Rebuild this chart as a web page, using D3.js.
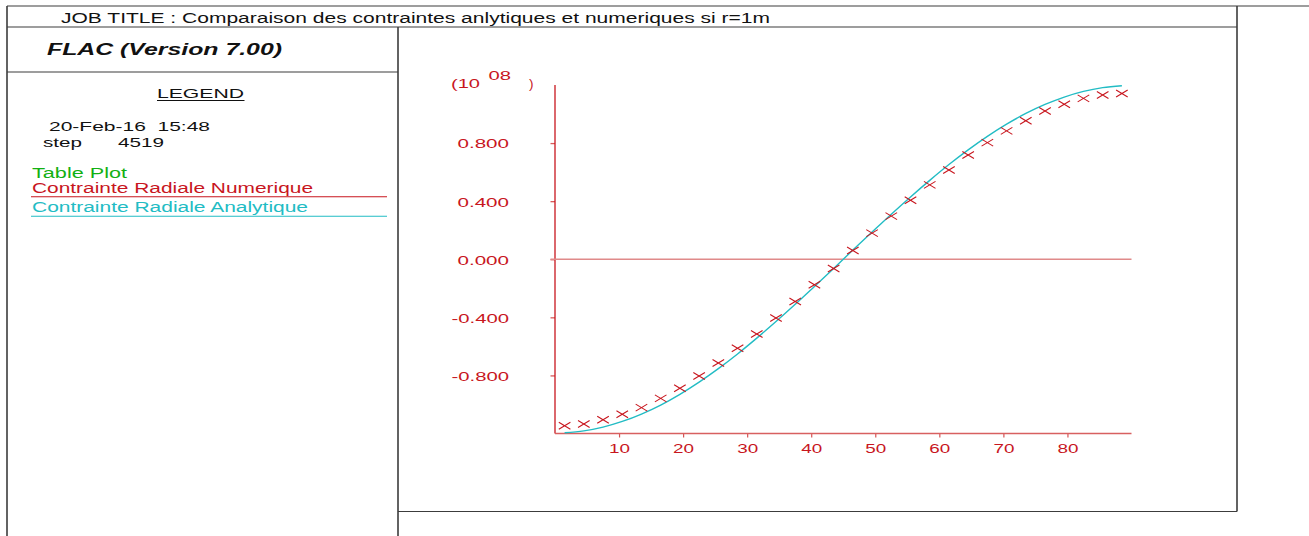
<!DOCTYPE html>
<html>
<head>
<meta charset="utf-8">
<script src="https://cdn.jsdelivr.net/npm/d3@7"></script>
<style>
  html, body { margin: 0; padding: 0; background: #fff; }
  svg { display: block; }
  text { font-family: "Liberation Sans", Arial, Helvetica, sans-serif; white-space: pre; }
</style>
</head>
<body>
<svg id="plot" width="1309" height="536"></svg>
<script>
// Angle along the boundary (degrees)
const angles = [1.5, 4.5, 7.5, 10.5, 13.5, 16.5, 19.5, 22.5, 25.5, 28.5,
                31.5, 34.5, 37.5, 40.5, 43.5, 46.5, 49.5, 52.5, 55.5, 58.5,
                61.5, 64.5, 67.5, 70.5, 73.5, 76.5, 79.5, 82.5, 85.5, 88.5];

// Radial stress, numerical (FLAC), units of 10^8
const numerique = [-1.146, -1.134, -1.105, -1.068, -1.022, -0.958, -0.889, -0.804, -0.715, -0.613,
                   -0.515, -0.405, -0.291, -0.176, -0.064, 0.060, 0.180, 0.297, 0.406, 0.512,
                   0.615, 0.718, 0.803, 0.884, 0.954, 1.021, 1.067, 1.108, 1.131, 1.142];

// Radial stress, analytical solution, units of 10^8
const analytique = [-1.195, -1.182, -1.156, -1.117, -1.066, -1.004, -0.930, -0.846, -0.753, -0.652,
                    -0.543, -0.429, -0.310, -0.187, -0.063, 0.063, 0.187, 0.310, 0.429, 0.543,
                    0.652, 0.753, 0.846, 0.930, 1.004, 1.066, 1.117, 1.156, 1.182, 1.195];

const yTicks = [-0.8, -0.4, 0.0, 0.4, 0.8];
const xTicks = [10, 20, 30, 40, 50, 60, 70, 80];

const RED = "#c8161e";
const CYAN = "#22bcc4";
const GREEN = "#12b012";
const INK = "#111";
const FRAME = "#3c3c3c";

const svg = d3.select("#plot");

// ---- page frame ----
const frame = svg.append("g").attr("fill", "none").attr("stroke", FRAME);
frame.append("line").attr("x1", 7).attr("y1", 6).attr("x2", 1309).attr("y2", 6).attr("stroke-width", 1.2);
frame.append("line").attr("x1", 7).attr("y1", 6).attr("x2", 7).attr("y2", 536).attr("stroke-width", 1.6);
frame.append("line").attr("x1", 1237).attr("y1", 6).attr("x2", 1237).attr("y2", 511.5).attr("stroke-width", 1.6);
frame.append("line").attr("x1", 7).attr("y1", 27).attr("x2", 1237).attr("y2", 27).attr("stroke-width", 1.2);
frame.append("line").attr("x1", 398).attr("y1", 27).attr("x2", 398).attr("y2", 536).attr("stroke-width", 1.6);
frame.append("line").attr("x1", 7).attr("y1", 72).attr("x2", 398).attr("y2", 72).attr("stroke-width", 1.2);
frame.append("line").attr("x1", 398).attr("y1", 511.5).attr("x2", 1237).attr("y2", 511.5).attr("stroke-width", 1.2);

// helper for stretched plotter-style text
function label(g, str, x, y, opts) {
  const t = g.append("text").attr("x", x).attr("y", y).text(str)
    .attr("font-size", opts.size || 13)
    .attr("fill", opts.fill || INK);
  if (opts.len) t.attr("textLength", opts.len).attr("lengthAdjust", "spacingAndGlyphs");
  if (opts.weight) t.attr("font-weight", opts.weight);
  if (opts.style) t.attr("font-style", opts.style);
  if (opts.anchor) t.attr("text-anchor", opts.anchor);
  return t;
}

const hdr = svg.append("g");
label(hdr, "JOB TITLE : Comparaison des contraintes anlytiques et numeriques si r=1m", 61, 23, {size: 14, len: 709});
label(hdr, "FLAC (Version 7.00)", 47, 54.5, {size: 16, len: 235, weight: "bold", style: "italic"});

// ---- legend panel ----
const leg = svg.append("g");
label(leg, "LEGEND", 157, 97.5, {size: 13.5, len: 87});
leg.append("line").attr("x1", 157).attr("x2", 244.5).attr("y1", 100.5).attr("y2", 100.5)
  .attr("stroke", INK).attr("stroke-width", 1);
label(leg, "20-Feb-16  15:48", 49, 131, {size: 13.5, len: 161});
label(leg, "step", 43, 146.5, {size: 13.5, len: 39});
label(leg, "4519", 118, 146.5, {size: 13.5, len: 46});
label(leg, "Table Plot", 32, 177.5, {size: 14, len: 95, fill: GREEN});
label(leg, "Contrainte Radiale Numerique", 32, 192.5, {size: 14, len: 281, fill: RED});
leg.append("line").attr("x1", 31).attr("x2", 387).attr("y1", 196.8).attr("y2", 196.8)
  .attr("stroke", RED).attr("stroke-width", 1.1);
label(leg, "Contrainte Radiale Analytique", 32, 212, {size: 14, len: 276, fill: CYAN});
leg.append("line").attr("x1", 31).attr("x2", 387).attr("y1", 216.2).attr("y2", 216.2)
  .attr("stroke", CYAN).attr("stroke-width", 1.1);

// ---- chart ----
const x = d3.scaleLinear().domain([0, 90]).range([555, 1131.5]);
const y = d3.scaleLinear().domain([-1.2, 1.2]).range([433.5, 85]);

const fmtY = v => d3.format(".3f")(v).replace("\u2212", "-");

// y axis
const yAxis = svg.append("g").attr("transform", `translate(${x(0)},0)`)
  .call(d3.axisLeft(y).tickValues(yTicks).tickSize(4.5).tickPadding(0).tickFormat(fmtY));
yAxis.select(".domain").remove();
yAxis.selectAll(".tick line").attr("stroke", "#d85a5a").attr("stroke-width", 1.3);
yAxis.selectAll(".tick text")
  .attr("x", -46).attr("dy", "0.36em").attr("fill", RED)
  .attr("font-size", 13.5).attr("font-family", null)
  .each(function (d) {
    d3.select(this).attr("textLength", d < 0 ? 57.5 : 51.5).attr("lengthAdjust", "spacingAndGlyphs");
  });
svg.append("line").attr("x1", x(0)).attr("x2", x(0)).attr("y1", 85).attr("y2", 433.5)
  .attr("stroke", RED).attr("stroke-width", 1.3);

// x axis
const xAxis = svg.append("g").attr("transform", `translate(0,${y(-1.2)})`)
  .call(d3.axisBottom(x).tickValues(xTicks).tickSize(4).tickPadding(6).tickFormat(d3.format("d")));
xAxis.select(".domain").remove();
xAxis.selectAll(".tick line").attr("stroke", "#d65454").attr("stroke-width", 1.2);
xAxis.selectAll(".tick text")
  .attr("fill", RED).attr("font-size", 13).attr("font-family", null)
  .attr("dy", "0.71em")
  .attr("textLength", 21).attr("lengthAdjust", "spacingAndGlyphs");
svg.append("line").attr("x1", x(0)).attr("x2", x(90)).attr("y1", y(-1.2)).attr("y2", y(-1.2))
  .attr("stroke", "#d86060").attr("stroke-width", 1.3);

// exponent label
const ex = svg.append("g").attr("fill", RED);
label(ex, "(10", 451, 88, {size: 13.5, len: 29, fill: RED});
label(ex, "08", 488.5, 79.5, {size: 13.5, len: 22.5, fill: RED});
label(ex, ")", 529, 88, {size: 13.5, fill: RED});

// zero reference line
svg.append("line").attr("x1", x(0) - 4.5).attr("x2", x(90)).attr("y1", y(0)).attr("y2", y(0))
  .attr("stroke", "#e08a8a").attr("stroke-width", 1.5);

// analytical curve
const pts = angles.map((a, i) => [a, analytique[i]]);
svg.append("path")
  .datum(pts)
  .attr("fill", "none")
  .attr("stroke", CYAN)
  .attr("stroke-width", 1.4)
  .attr("d", d3.line().x(d => x(d[0])).y(d => y(d[1])).curve(d3.curveMonotoneX));

// numerical results as crosses
const hw = 5.8, hh = 3.5;
svg.append("g").selectAll("path")
  .data(angles.map((a, i) => [a, numerique[i]]))
  .join("path")
  .attr("transform", d => `translate(${x(d[0])},${y(d[1])})`)
  .attr("d", `M${-hw},${-hh}L${hw},${hh}M${-hw},${hh}L${hw},${-hh}`)
  .attr("fill", "none")
  .attr("stroke", RED)
  .attr("stroke-width", 1.1);
</script>
</body>
</html>
